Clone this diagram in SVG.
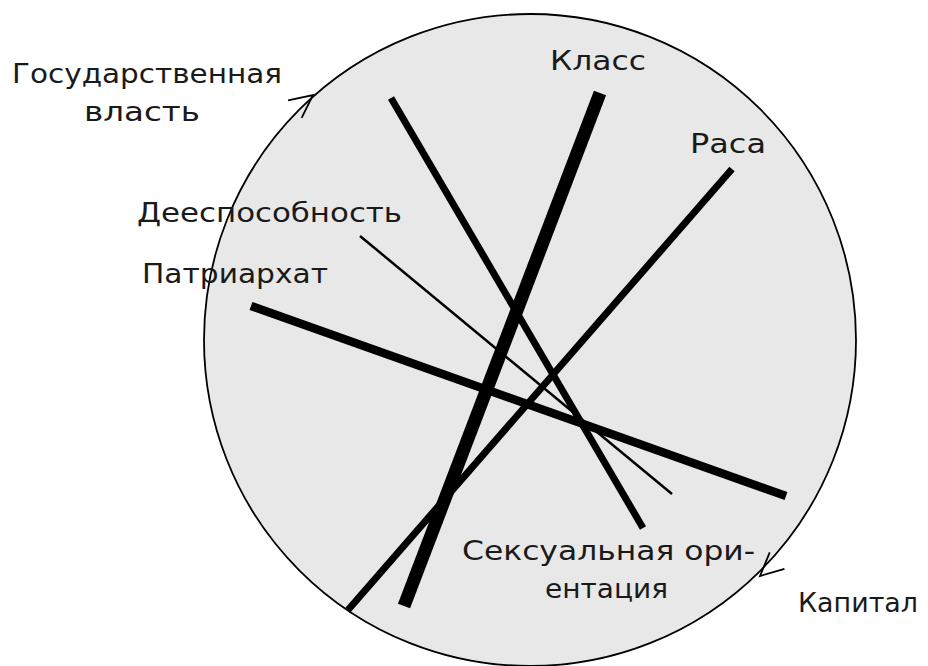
<svg xmlns="http://www.w3.org/2000/svg" width="928" height="666" viewBox="0 0 928 666">
<style>
.lbl{font-family:"DejaVu Sans","Liberation Sans",sans-serif;font-size:26px;fill:#1a1a1a}
.ln{stroke:#000;fill:none;stroke-linecap:butt}
.ah{stroke:#000;fill:none;stroke-width:1.8;stroke-linejoin:miter}
</style>
<defs>
<path id="head" d="M -23,-11 L 0,0 L -23,11"/>
</defs>
<rect width="928" height="666" fill="#fff"/>
<g id="circle">
<circle cx="530" cy="340" r="326" fill="#e8e8e8" stroke="#000" stroke-width="1.8"/>
<use href="#head" class="ah" transform="translate(313,95) rotate(-38)"/>
<use href="#head" class="ah" transform="translate(760,576) rotate(138)"/>
</g>
<g id="connectors">
<line class="ln" x1="391" y1="98" x2="643" y2="528" stroke-width="7"/>
<line class="ln" x1="600" y1="93" x2="404" y2="606" stroke-width="13"/>
<line class="ln" x1="732" y1="169" x2="348" y2="610" stroke-width="7"/>
<line class="ln" x1="360" y1="236" x2="672" y2="494" stroke-width="2.5"/>
<line class="ln" x1="251" y1="306" x2="786" y2="496" stroke-width="8.5"/>
</g>
<g id="n-gos"><text class="lbl" x="12" y="83" textLength="270" lengthAdjust="spacingAndGlyphs">Государственная</text>
<text class="lbl" x="84" y="121" textLength="116" lengthAdjust="spacingAndGlyphs">власть</text></g>
<g id="n-klass"><text class="lbl" x="550" y="70" textLength="96" lengthAdjust="spacingAndGlyphs">Класс</text></g>
<g id="n-rasa"><text class="lbl" x="690" y="153" textLength="76" lengthAdjust="spacingAndGlyphs">Раса</text></g>
<g id="n-dee"><text class="lbl" x="137" y="222" textLength="265" lengthAdjust="spacingAndGlyphs">Дееспособность</text></g>
<g id="n-patr"><text class="lbl" x="142" y="283" textLength="186" lengthAdjust="spacingAndGlyphs">Патриархат</text></g>
<g id="n-sex"><text class="lbl" x="462" y="560" textLength="293" lengthAdjust="spacingAndGlyphs">Сексуальная ори-</text>
<text class="lbl" x="545" y="598" textLength="123" lengthAdjust="spacingAndGlyphs">ентация</text></g>
<g id="n-kap"><text class="lbl" x="798" y="612" textLength="120" lengthAdjust="spacingAndGlyphs">Капитал</text></g>
</svg>
